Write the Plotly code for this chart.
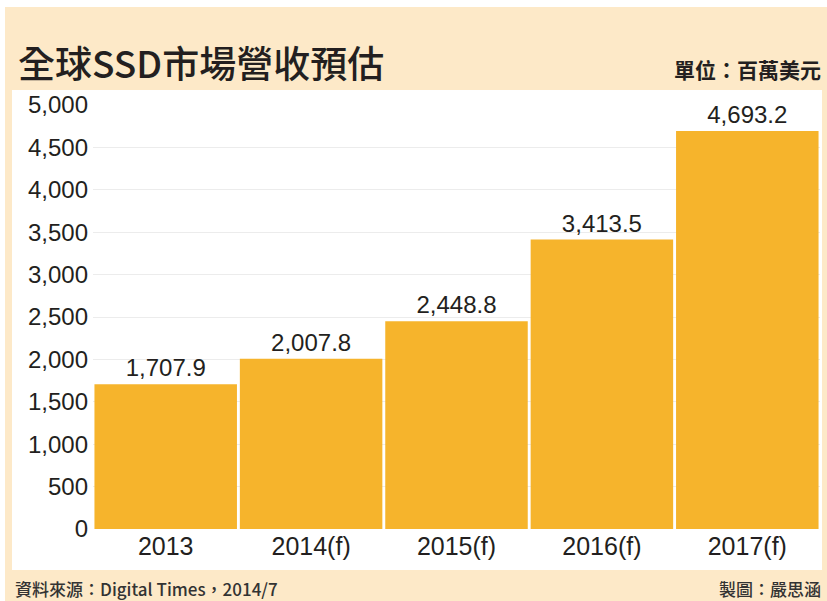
import plotly.graph_objects as go

categories = ["2013", "2014(f)", "2015(f)", "2016(f)", "2017(f)"]
revenue = [1707.9, 2007.8, 2448.8, 3413.5, 4693.2]
y_ticks = [0, 500, 1000, 1500, 2000, 2500, 3000, 3500, 4000, 4500, 5000]

W, H = 827, 601
L, R, T, B = 93, 7, 105, 72
PW = W - L - R
PH = H - T - B


def px(p):
    return (p - L) / PW


def py(q):
    return (H - B - q) / PH


CREAM = "#fde9c8"
BAR = "#f6b42c"
TXT = "#231f20"

fig = go.Figure()
fig.add_trace(go.Bar(
    x=categories,
    y=revenue,
    marker=dict(color=BAR, line=dict(width=0)),
    texttemplate="%{y:,.1f}",
    textposition="outside",
    textfont=dict(family="Liberation Sans, Arial, sans-serif", size=24, color=TXT),
    cliponaxis=False,
    hoverinfo="skip",
))

shapes = [
    dict(type="rect", xref="paper", yref="paper", x0=px(5), x1=px(W + 5), y0=py(H + 5), y1=py(7),
         fillcolor=CREAM, line=dict(width=0), layer="below"),
    dict(type="rect", xref="paper", yref="paper", x0=px(12), x1=px(822), y0=py(570), y1=py(90),
         fillcolor="white", line=dict(width=0), layer="below"),
]

annotations = [
    dict(text="全球SSD市場營收預估", xref="paper", yref="paper", x=px(16), y=py(62),
         xanchor="left", yanchor="middle", showarrow=False,
         font=dict(family="Noto Sans CJK TC, sans-serif", size=37, color=TXT, weight=500)),
    dict(text="單位：百萬美元", xref="paper", yref="paper", x=px(823), y=py(69),
         xanchor="right", yanchor="middle", showarrow=False,
         font=dict(family="Noto Sans CJK TC, sans-serif", size=21, color=TXT, weight=700)),
    dict(text="資料來源：Digital Times，2014/7", xref="paper", yref="paper", x=px(13), y=py(588),
         xanchor="left", yanchor="middle", showarrow=False,
         font=dict(family="Noto Sans CJK TC, sans-serif", size=17, color="#333333", weight=500)),
    dict(text="製圖：嚴思涵", xref="paper", yref="paper", x=px(823), y=py(588),
         xanchor="right", yanchor="middle", showarrow=False,
         font=dict(family="Noto Sans CJK TC, sans-serif", size=17, color="#333333", weight=500)),
]

fig.update_layout(
    width=W, height=H,
    margin=dict(l=L, r=R, t=T, b=B, pad=0),
    paper_bgcolor="white",
    plot_bgcolor="rgba(0,0,0,0)",
    bargap=0.02,
    showlegend=False,
    shapes=shapes,
    annotations=annotations,
    xaxis=dict(
        showline=False, ticks="", showgrid=False,
        tickfont=dict(family="Liberation Sans, Arial, sans-serif", size=25, color=TXT),
    ),
    yaxis=dict(
        range=[0, 5000], tickvals=y_ticks, tickformat=",",
        showline=False, ticks="", zeroline=False,
        showgrid=True, gridcolor="#ececec", gridwidth=1,
        ticklabelstandoff=4,
        tickfont=dict(family="Liberation Sans, Arial, sans-serif", size=24, color=TXT),
    ),
)

fig.write_html("out.html",
               config={"displayModeBar": False},
               post_script="document.body.style.margin='0';document.body.style.overflow='hidden';")
